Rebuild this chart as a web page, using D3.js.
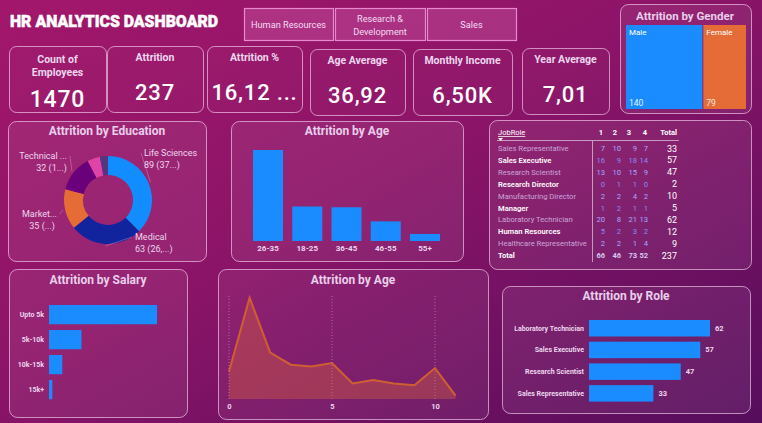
<!DOCTYPE html>
<html><head><meta charset="utf-8">
<script src="https://cdn.jsdelivr.net/npm/d3@7"></script>
<style>html,body{margin:0;padding:0;background:#8a1266;overflow:hidden} svg{display:block;font-family:Roboto,"Open Sans",sans-serif;}</style>
</head><body><svg id="c" width="762" height="423"></svg>
<script>
// ---------- DATA ----------
const titleText = "HR ANALYTICS DASHBOARD";
const deptButtons = [["Human Resources"], ["Research &", "Development"], ["Sales"]];
const kpiLabels = [["Count of", "Employees"], ["Attrition"], ["Attrition %"], ["Age Average"], ["Monthly Income"], ["Year Average"]];
const kpiValues = ["1470", "237", "16,12 ...", "36,92", "6,50K", "7,01"];
const genderCats = ["Male", "Female"];
const genderVals = [140, 79];
const eduCats = ["Life Sciences", "Medical", "Marketing", "Technical Degree", "Other", "Human Resources"];
const eduVals = [89, 63, 35, 32, 11, 7];
const eduLabelText = [["Life Sciences", "89 (37...)"], ["Medical", "63 (26,...)"], ["Market...", "35 (...)"], ["Technical ...", "32 (1...)"], null, null];
const ageGroups = ["26-35", "18-25", "36-45", "46-55", "55+"];
const ageVals = [116, 44, 43, 25, 9];
const tableCols = ["1", "2", "3", "4"];
const tableRoles = ["Sales Representative", "Sales Executive", "Research Scientist", "Research Director", "Manufacturing Director", "Manager", "Laboratory Technician", "Human Resources", "Healthcare Representative"];
const tableVals = [[7,10,9,7],[16,9,18,14],[13,10,15,9],[0,1,1,0],[2,2,4,2],[1,2,1,1],[20,8,21,13],[5,2,3,2],[2,2,1,4]];
const salaryCats = ["Upto 5k", "5k-10k", "10k-15k", "15k+"];
const salaryVals = [163, 49, 20, 5];
const yearsAtCompany = [0,1,2,3,4,5,6,7,8,9,10,11];
const yearsAttrition = [16,59,27,20,19,21,9,11,9,8,18,2];
const yearsTicks = [0, 5, 10];
const roleCats = ["Laboratory Technician", "Sales Executive", "Research Scientist", "Sales Representative"];
const roleVals = [62, 57, 47, 33];

// ---------- STYLE ----------
const eduColors = ["#118DFF", "#12239E", "#E66C37", "#6B007B", "#E044A7", "#553580"];
const barBlue = "#1a8cff";
const titleCol = "#e8cfea";
const labCol = "#ecd6ee";

const svg = d3.select("#c");
const defs = svg.append("defs");
const g = defs.append("linearGradient").attr("id","bg").attr("x1","0").attr("y1","0").attr("x2","1").attr("y2","1");
g.append("stop").attr("offset","0").attr("stop-color","#a2176b");
g.append("stop").attr("offset","0.45").attr("stop-color","#8c1468");
g.append("stop").attr("offset","1").attr("stop-color","#560d5c");
svg.append("rect").attr("width",762).attr("height",423).attr("fill","url(#bg)");

function panel(x,y,w,h,fill){
  svg.append("rect").attr("x",x+0.5).attr("y",y+0.5).attr("width",w).attr("height",h).attr("rx",8)
    .attr("fill",fill||"rgba(255,255,255,0.07)").attr("stroke","rgba(255,225,250,0.6)").attr("stroke-width",1);
}
function ptitle(x,y,t,fs){
  svg.append("text").attr("x",x).attr("y",y).attr("text-anchor","middle").attr("font-weight",700)
    .attr("font-size",fs||12).attr("fill",titleCol).text(t);
}

// ---------- TITLE ----------
svg.append("text").attr("x",10).attr("y",27).attr("font-weight",900).attr("font-size",17)
  .attr("textLength",208).attr("lengthAdjust","spacingAndGlyphs").attr("fill","#fff")
  .attr("stroke","#fff").attr("stroke-width",0.5).text(titleText);

// ---------- BUTTONS ----------
const btnX = [244, 335, 427], btnW = [89, 90, 89];
deptButtons.forEach((lines,i)=>{
  svg.append("rect").attr("x",btnX[i]+0.5).attr("y",8.5).attr("width",btnW[i]).attr("height",32)
    .attr("fill","rgba(255,150,220,0.22)").attr("stroke","#e889cf").attr("stroke-width",1.2);
  const cy = 25;
  lines.forEach((l,j)=>{
    svg.append("text").attr("x",btnX[i]+btnW[i]/2).attr("y",cy+3+(j-(lines.length-1)/2)*13)
      .attr("text-anchor","middle").attr("font-size",9.2).attr("fill","#f2dcf2").text(l);
  });
});

// ---------- KPI CARDS ----------
const kx=[9,107,207,310,413,522], kw=[97,96,95,95,99,87], ky=[46,46,46,49,49,48];
kpiLabels.forEach((lines,i)=>{
  svg.append("rect").attr("x",kx[i]+0.5).attr("y",ky[i]+0.5).attr("width",kw[i]).attr("height",66).attr("rx",7)
    .attr("fill","rgba(255,255,255,0.02)").attr("stroke","rgba(255,225,250,0.6)");
  lines.forEach((l,j)=>{
    svg.append("text").attr("x",kx[i]+kw[i]/2).attr("y",ky[i]+(lines.length>1?16.5+j*13:14.5+ (i>=3?0.5:0)))
      .attr("text-anchor","middle").attr("font-weight",700).attr("font-size",10.5).attr("fill",labCol).text(l);
  });
  svg.append("text").attr("x",kx[i]+kw[i]/2).attr("y",ky[i]+(lines.length>1?61:54))
    .attr("text-anchor","middle").attr("font-weight",500).attr("font-size",lines.length>1?23:22)
    .attr("letter-spacing",0.8).attr("fill","#fff").text(kpiValues[i]);
});

// ---------- GENDER TREEMAP ----------
panel(620,4,131,109);
ptitle(685,20,"Attrition by Gender",11.5);
const groot = d3.hierarchy({children: genderCats.map((c,i)=>({name:c,value:genderVals[i]}))}).sum(d=>d.value||0);
d3.treemap().size([120,84]).tile(d3.treemapDice).paddingInner(1)(groot);
const gG = svg.append("g").attr("transform","translate(626,25)");
const gCol = ["#1a8cff","#e66c37"];
groot.leaves().forEach((d,i)=>{
  gG.append("rect").attr("x",d.x0).attr("y",d.y0).attr("width",d.x1-d.x0).attr("height",d.y1-d.y0).attr("fill",gCol[i]);
  gG.append("text").attr("x",d.x0+3).attr("y",d.y0+10).attr("font-size",8).attr("fill","#fff").text(d.data.name);
  gG.append("text").attr("x",d.x0+3).attr("y",d.y1-3).attr("font-size",8.5).attr("fill","#fff").attr("fill-opacity",0.9).text(d.data.value);
});

// ---------- EDUCATION DONUT ----------
panel(8,121,198,140);
ptitle(107,135,"Attrition by Education");
const pie = d3.pie().sort(null).value(d=>d)(eduVals);
const arc = d3.arc().innerRadius(25).outerRadius(44);
const dG = svg.append("g").attr("transform","translate(108,200)");
dG.selectAll("path").data(pie).join("path").attr("d",arc).attr("fill",(d,i)=>eduColors[i]);
const lblPos = [{x:144,y:156,a:"start"},{x:135,y:240,a:"start"},{x:57,y:217,a:"end"},{x:67,y:159,a:"end"}];
const lineArc = d3.arc().innerRadius(46).outerRadius(46);
eduLabelText.forEach((t,i)=>{
  if(!t) return;
  const p = lblPos[i];
  const c = lineArc.centroid(pie[i]);
  const sx = 108 + c[0], sy = 200 + c[1];
  const ex = p.a==="start" ? p.x-3 : p.x+3;
  svg.append("polyline").attr("points",`${sx},${sy} ${ex},${p.y-3}`).attr("fill","none")
    .attr("stroke","rgba(255,220,245,0.35)").attr("stroke-width",0.8);
  t.forEach((l,j)=>{
    svg.append("text").attr("x",p.x - (p.a==="end"&&j===1&&i===2?2:0)).attr("y",p.y+j*11.5).attr("text-anchor",p.a)
      .attr("font-size",9).attr("fill",labCol).text(l);
  });
});

// ---------- AGE BAR ----------
panel(231,121,232,140);
ptitle(347,135,"Attrition by Age");
const xAge = d3.scaleBand().domain(ageGroups).range([248.4,444.6]).paddingInner(0.235).paddingOuter(0.1175);
const yAge = d3.scaleLinear().domain([0,d3.max(ageVals)]).range([241,150]);
svg.append("g").selectAll("rect").data(ageVals).join("rect")
  .attr("x",(d,i)=>xAge(ageGroups[i])).attr("width",xAge.bandwidth())
  .attr("y",d=>yAge(d)).attr("height",d=>yAge(0)-yAge(d)).attr("fill",barBlue);
const axAge = svg.append("g").attr("transform","translate(0,241)").call(d3.axisBottom(xAge).tickSize(0).tickPadding(4));
axAge.select(".domain").remove();
axAge.selectAll("text").attr("font-size",8).attr("font-weight",700).attr("fill",labCol).attr("font-family","Roboto");

// ---------- TABLE ----------
panel(489,120,262,149);
const colRight = [605, 621, 637, 648], totRight = 677;
const t0 = 135;
svg.append("text").attr("x",498).attr("y",t0).attr("font-size",7.5).attr("fill","#fff").attr("text-decoration","underline").text("JobRole");
svg.append("path").attr("d","M498,138 L503,138 L500.5,141 Z").attr("fill","#fff");
const headRight = [603, 617, 631, 647];
tableCols.forEach((c,j)=>svg.append("text").attr("x",headRight[j]).attr("y",t0).attr("text-anchor","end").attr("font-size",7.5).attr("font-weight",700).attr("fill","#fff").text(c));
svg.append("text").attr("x",totRight).attr("y",t0).attr("text-anchor","end").attr("font-size",7.5).attr("font-weight",700).attr("fill","#fff").text("Total");
svg.append("line").attr("x1",497).attr("x2",679).attr("y1",140.5).attr("y2",140.5).attr("stroke","rgba(255,255,255,0.55)");
svg.append("line").attr("x1",592.5).attr("x2",592.5).attr("y1",141).attr("y2",262).attr("stroke","rgba(255,255,255,0.55)");
const rowY = i => 151 + i*11.9;
tableRoles.forEach((r,i)=>{
  const odd = i%2===1;
  svg.append("text").attr("x",498).attr("y",rowY(i)).attr("font-size",7.6).attr("font-weight",odd?600:400)
    .attr("fill",odd?"#ffffff":"#caa6d8").text(r);
  tableVals[i].forEach((v,j)=>svg.append("text").attr("x",colRight[j]).attr("y",rowY(i)).attr("text-anchor","end")
    .attr("font-size",7.6).attr("fill",odd?"#8a8cf5":"#a6a8ff").text(v));
  svg.append("text").attr("x",totRight).attr("y",rowY(i)+0.5).attr("text-anchor","end").attr("font-size",9)
    .attr("fill","#fff").text(d3.sum(tableVals[i]));
});
const tr = tableRoles.length;
svg.append("text").attr("x",498).attr("y",rowY(tr)).attr("font-size",7.5).attr("font-weight",700).attr("fill","#fff").text("Total");
tableCols.forEach((c,j)=>svg.append("text").attr("x",colRight[j]).attr("y",rowY(tr)).attr("text-anchor","end")
  .attr("font-size",7.5).attr("font-weight",700).attr("fill","#d8c8ee").text(d3.sum(tableVals,r=>r[j])));
svg.append("text").attr("x",totRight).attr("y",rowY(tr)+0.5).attr("text-anchor","end").attr("font-size",9)
  .attr("fill","#fff").text(d3.sum(tableVals,r=>d3.sum(r)));

// ---------- SALARY ----------
panel(9,269,178,148);
ptitle(98,284,"Attrition by Salary");
const ySal = d3.scaleBand().domain(salaryCats).range([302.1,402.1]).paddingInner(0.23).paddingOuter(0.115);
const xSal = d3.scaleLinear().domain([0,d3.max(salaryVals)]).range([49,157]);
svg.append("g").selectAll("rect").data(salaryVals).join("rect")
  .attr("x",xSal(0)).attr("y",(d,i)=>ySal(salaryCats[i])).attr("height",ySal.bandwidth())
  .attr("width",d=>xSal(d)-xSal(0)).attr("fill",barBlue);
const axSal = svg.append("g").attr("transform","translate(49,0)").call(d3.axisLeft(ySal).tickSize(0).tickPadding(5));
axSal.select(".domain").remove();
axSal.selectAll("text").attr("font-size",7).attr("font-weight",700).attr("fill",labCol).attr("font-family","Roboto");

// ---------- AREA ----------
panel(218,269,270,150,"rgba(255,255,255,0.06)");
ptitle(353,284,"Attrition by Age");
const xYr = d3.scaleLinear().domain([0,11]).range([229,455.6]);
const yYr = d3.scaleLinear().domain([0,60]).range([399,296]);
yearsTicks.forEach(t=>svg.append("line").attr("x1",xYr(t)).attr("x2",xYr(t)).attr("y1",296).attr("y2",399)
  .attr("stroke","rgba(255,255,255,0.35)").attr("stroke-dasharray","1,2"));
const pts = yearsAtCompany.map((x,i)=>[x,yearsAttrition[i]]);
svg.append("path").datum(pts).attr("d",d3.area().x(d=>xYr(d[0])).y0(yYr(0)).y1(d=>yYr(d[1])))
  .attr("fill","rgba(230,108,55,0.33)");
svg.append("path").datum(pts).attr("d",d3.line().x(d=>xYr(d[0])).y(d=>yYr(d[1])))
  .attr("fill","none").attr("stroke","#cf5f33").attr("stroke-width",2);
const axYr = svg.append("g").attr("transform","translate(0,399)").call(d3.axisBottom(xYr).tickValues(yearsTicks).tickSize(0).tickPadding(5));
axYr.select(".domain").remove();
axYr.selectAll("text").attr("font-size",7.5).attr("font-weight",700).attr("fill",labCol).attr("font-family","Roboto");

// ---------- ROLE ----------
panel(502,286,248,127);
ptitle(626,300,"Attrition by Role");
const yRole = d3.scaleBand().domain(roleCats).range([317.4,404.2]).paddingInner(0.24).paddingOuter(0.12);
const xRole = d3.scaleLinear().domain([0,d3.max(roleVals)]).range([589,710]);
svg.append("g").selectAll("rect").data(roleVals).join("rect")
  .attr("x",xRole(0)).attr("y",(d,i)=>yRole(roleCats[i])).attr("height",yRole.bandwidth())
  .attr("width",d=>xRole(d)-xRole(0)).attr("fill",barBlue);
svg.append("g").selectAll("text").data(roleVals).join("text")
  .attr("x",d=>xRole(d)+5).attr("y",(d,i)=>yRole(roleCats[i])+yRole.bandwidth()/2+2.5)
  .attr("font-size",7.5).attr("font-weight",700).attr("fill",labCol).text(d=>d);
const axRole = svg.append("g").attr("transform","translate(589,0)").call(d3.axisLeft(yRole).tickSize(0).tickPadding(5));
axRole.select(".domain").remove();
axRole.selectAll("text").attr("font-size",7).attr("font-weight",700).attr("fill",labCol).attr("font-family","Roboto");
</script></body></html>
